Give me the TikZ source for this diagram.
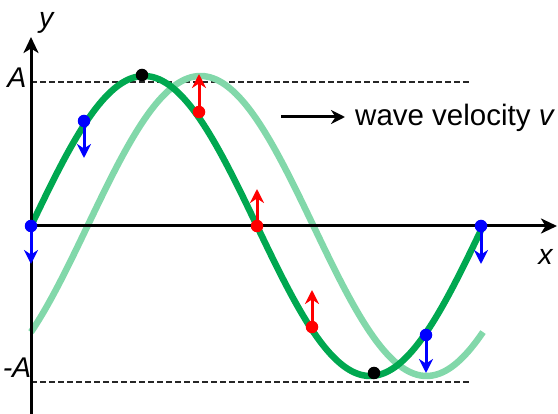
\documentclass[tikz,border=0pt]{standalone}
\usepackage{fontspec}
\setmainfont{Liberation Sans}
\usetikzlibrary{arrows.meta}
\definecolor{dkgreen}{RGB}{0,168,80}
\definecolor{ltgreen}{RGB}{130,216,170}
\begin{document}
\begin{tikzpicture}[x=1pt,y=-1pt,
  axis/.style={line width=3pt,-{Stealth[length=16pt,width=15pt,inset=4.5pt]}},
  varrow/.style={line width=3pt,-{Stealth[length=14pt,width=14pt,inset=4.5pt]}},
  dot/.style={circle,inner sep=0pt,minimum size=12.5pt,draw=none},
  guide/.style={line width=1.4pt,dash pattern=on 5.5pt off 3.5pt,black!85},
  wave/.style={line width=6.5pt},
  lbl/.style={inner sep=0pt,font=\fontsize{28.5}{33}\selectfont}]
\useasboundingbox (0,0) rectangle (558,414);
% guides
\coordinate (gA1) at (31,82); \coordinate (gA2) at (470,82);
\coordinate (gB1) at (31,382); \coordinate (gB2) at (470,382);
\draw[guide] (gA1) -- (gA2);
\draw[guide] (gB1) -- (gB2);
% waves
\draw[wave,ltgreen] plot[domain=31:483,samples=160,smooth] (\x,{226-150*sin(((\x-31)/452)*360-45)});
\draw[wave,dkgreen] plot[domain=31:483,samples=160,smooth] (\x,{226-150*sin(((\x-31)/452)*360)});
% axes
\coordinate (yb) at (31,414); \coordinate (yt) at (31,37);
\coordinate (xl) at (31,226); \coordinate (xr) at (557,226);
\draw[axis] (yb) -- (yt);
\draw[axis] (xl) -- (xr);
% dots
\node[dot,fill=black] (k1) at (142,75) {};
\node[dot,fill=black] (k2) at (374,373) {};
\node[dot,fill=red] (r1) at (199,112) {};
\node[dot,fill=red] (r2) at (257,226) {};
\node[dot,fill=red] (r3) at (312,327) {};
\node[dot,fill=blue] (b1) at (84,121) {};
\node[dot,fill=blue] (b2) at (31,226) {};
\node[dot,fill=blue] (b3) at (481,226) {};
\node[dot,fill=blue] (b4) at (426,335) {};
\coordinate (r1t) at (199,74);
\coordinate (r2t) at (257,189);
\coordinate (r3t) at (312,290);
\coordinate (b1t) at (84,158);
\coordinate (b2t) at (31,264);
\coordinate (b3t) at (481,264);
\coordinate (b4t) at (426,373);
\draw[varrow,red] (r1) -- (r1t);
\draw[varrow,red] (r2) -- (r2t);
\draw[varrow,red] (r3) -- (r3t);
\draw[varrow,blue] (b1) -- (b1t);
\draw[varrow,blue] (b2) -- (b2t);
\draw[varrow,blue] (b3) -- (b3t);
\draw[varrow,blue] (b4) -- (b4t);
% velocity
\node[lbl,anchor=base west,font=\fontsize{29.5}{34}\selectfont] (vel) at (355,126) {wave velocity \textit{v}};
\coordinate (va) at (281,117);
\coordinate (vb) at (345,117);
\draw[varrow] (va) -- (vb);
% labels
\node[lbl,anchor=base] (ylab) at (47,28) {\textit{y}};
\node[lbl,anchor=base] (xlab) at (546,265) {\textit{x}};
\node[lbl,anchor=base] (Alab) at (17,88) {\textit{A}};
\node[lbl,anchor=base] (mAlab) at (17,378) {\textit{-A}};
\end{tikzpicture}
\end{document}
